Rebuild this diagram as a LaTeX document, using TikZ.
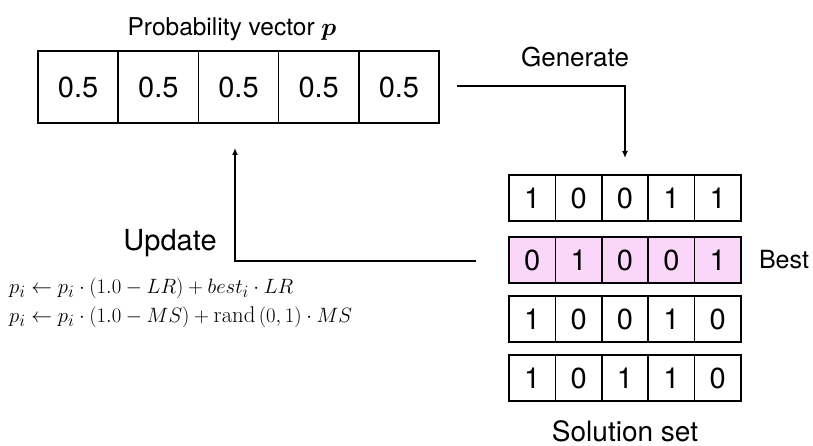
\documentclass[tikz,border=0pt]{standalone}
\usepackage{amsmath,bm}
\usepackage{fontspec}
\setsansfont{TeX Gyre Heros}
\usetikzlibrary{arrows.meta}
\definecolor{bestpink}{RGB}{250,214,250}
\begin{document}
\begin{tikzpicture}[x=1pt,y=-1pt,
  every node/.style={font=\sffamily},
  probcell/.style={draw, line width=1.5pt, minimum width=80.2pt, minimum height=72pt,
    inner sep=0pt, font=\sffamily\fontsize{29}{32}\selectfont},
  bitcell/.style={draw, line width=1.5pt, minimum width=46.4pt, minimum height=46pt,
    inner sep=0pt, font=\sffamily\fontsize{29}{32}\selectfont},
  bestcell/.style={bitcell, fill=bestpink},
  flow/.style={line width=1.4pt, -{Latex[length=7pt,width=6pt]}},
  formula/.style={anchor=base west, inner sep=0pt, font=\fontsize{22.7}{27}\selectfont}]
\useasboundingbox (0,0) rectangle (813,446);

% probability vector
\foreach \i in {1,...,5}
  \node[probcell] (pv\i) at ({38+80.2*(\i-0.5)},87) {0.5};
\node[font=\sffamily\fontsize{24.5}{28}\selectfont] (pvlabel) at (232,29)
  {Probability vector $\bm{p}$};

% solution set
\foreach \b [count=\j] in {1,0,0,1,1}
  \node[bitcell] (s1c\j) at ({509+46.4*(\j-0.5)},198) {\b};
\foreach \b [count=\j] in {0,1,0,0,1}
  \node[bestcell] (s2c\j) at ({509+46.4*(\j-0.5)},260) {\b};
\foreach \b [count=\j] in {1,0,0,1,0}
  \node[bitcell] (s3c\j) at ({509+46.4*(\j-0.5)},319) {\b};
\foreach \b [count=\j] in {1,0,1,1,0}
  \node[bitcell] (s4c\j) at ({509+46.4*(\j-0.5)},378) {\b};
\node[font=\sffamily\fontsize{25}{29}\selectfont] (bestlabel) at (784,260) {Best};
\node[font=\sffamily\fontsize{28}{32}\selectfont, anchor=base, inner sep=0pt]
  (sollabel) at (625,441) {Solution set};

% generate connector
\coordinate (genstart) at (457,86);
\coordinate (genend) at (625,158);
\draw[flow] (genstart) -| (genend);
\node[font=\sffamily\fontsize{26}{30}\selectfont] (genlabel) at (575,57) {Generate};

% update connector
\coordinate (updstart) at (476,261);
\coordinate (updend) at (235,148);
\draw[flow] (updstart) -| (updend);
\node[font=\sffamily\fontsize{29}{33}\selectfont] (updlabel) at (170,243) {Update};

% update rules
\node[formula] (rule1) at (9,293)
  {$p_i \leftarrow p_i \cdot (1.0 - LR) + best_i \cdot LR$};
\node[formula] (rule2) at (9,322)
  {$p_i \leftarrow p_i \cdot (1.0 - MS) + \mathrm{rand}\,(0,1) \cdot MS$};
\end{tikzpicture}
\end{document}
